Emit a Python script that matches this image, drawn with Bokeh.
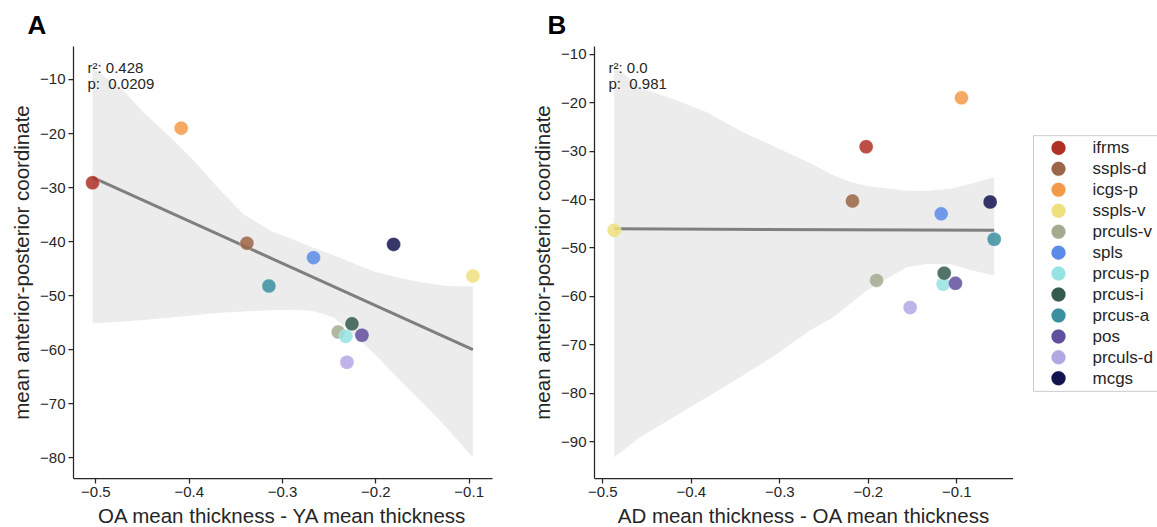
import numpy as np
from bokeh.plotting import figure
from bokeh.layouts import row
from bokeh.models import ColumnDataSource, Label, Title, FixedTicker, Range1d
from bokeh.core.properties import value
from bokeh.embed import file_html
from bokeh.resources import INLINE

# ---------------- data ----------------
regions = ["ifrms", "sspls-d", "icgs-p", "sspls-v", "prculs-v", "spls",
           "prcus-p", "prcus-i", "prcus-a", "pos", "prculs-d", "mcgs"]
colors = ["#b03024", "#9b6647", "#f39a4a", "#efe07e", "#a2ab90", "#5a8be8",
          "#95e3e3", "#355a4f", "#3a8fa0", "#5f4f9e", "#b3a7e3", "#13134f"]
ap_coord = [-29.1, -40.3, -19.0, -46.35, -56.7, -42.95,
            -57.5, -55.2, -48.2, -57.3, -62.3, -40.5]
oa_minus_ya = [-0.5036, -0.3382, -0.4086, -0.096, -0.2403, -0.2668,
               -0.2321, -0.2256, -0.3146, -0.2149, -0.231, -0.181]
ad_minus_oa = [-0.2025, -0.218, -0.0948, -0.4872, -0.1908, -0.1177,
               -0.1155, -0.1143, -0.0578, -0.1016, -0.1528, -0.0624]

# bootstrap confidence bands
band_a_x = [-0.5036, -0.474, -0.449, -0.42, -0.395, -0.37, -0.342, -0.313, -0.29,
            -0.267, -0.245, -0.231, -0.22, -0.2, -0.177, -0.152, -0.124, -0.096]
band_a_hi = [-8.0, -11.4, -16.1, -20.7, -25.0, -29.9, -34.9, -38.0, -39.5,
             -41.1, -42.5, -43.5, -44.3, -45.6, -46.6, -47.5, -48.2, -48.3]
band_a_lo = [-55.1, -54.8, -54.5, -54.0, -53.6, -53.2, -52.9, -52.7, -52.6,
             -52.8, -54.0, -56.0, -57.7, -61.0, -65.1, -69.4, -74.4, -79.9]
band_b_x = [-0.4872, -0.458, -0.42, -0.3825, -0.345, -0.3034, -0.2658, -0.2394,
            -0.2206, -0.2017, -0.1829, -0.1565, -0.1339, -0.1076, -0.0812, -0.0578]
band_b_hi = [-12.4, -16.9, -19.3, -22.0, -25.8, -29.3, -32.5, -35.0,
             -36.4, -37.2, -37.6, -38.2, -38.2, -37.8, -36.6, -35.4]
band_b_lo = [-93.2, -89.1, -84.9, -80.8, -76.7, -71.9, -67.0, -64.3,
             -61.5, -58.8, -56.7, -54.0, -53.3, -53.3, -54.7, -55.7]

stats_a = ["r²: 0.428", "p:\u00a0\u00a00.0209"]
stats_b = ["r²: 0.0", "p:\u00a0\u00a00.981"]
x_ticks = [-0.5, -0.4, -0.3, -0.2, -0.1]
y_ticks_a = [-80, -70, -60, -50, -40, -30, -20, -10]
y_ticks_b = [-90, -80, -70, -60, -50, -40, -30, -20, -10]
y_label = "mean anterior-posterior coordinate"
x_label_a = "OA mean thickness - YA mean thickness"
x_label_b = "AD mean thickness - OA mean thickness"

FONT = "Liberation Sans"
INK = "#262626"
FRAME_W, FRAME_H = 419, 432


def minus(s):
    return s.replace("-", "\u2212")


def panel(xvals, bx, blo, bhi, xr, yr, yticks, xlabel, letter, stats,
          left, right, letter_dx):
    p = figure(frame_width=FRAME_W, frame_height=FRAME_H, x_range=xr, y_range=yr,
               output_backend="svg", toolbar_location=None,
               min_border_left=left, min_border_right=right,
               min_border_top=46, min_border_bottom=40)
    p.outline_line_color = None
    p.grid.visible = False

    p.add_layout(Title(text=letter, align="left", offset=letter_dx, standoff=13,
                       text_font=FONT, text_font_size="26px", text_font_style="bold",
                       text_color="black"), "above")

    p.varea(x=bx, y1=blo, y2=bhi, fill_color="#808080", fill_alpha=0.15)
    slope, icpt = np.polyfit(xvals, ap_coord, 1)
    xs = [min(xvals), max(xvals)]
    p.line(xs, [slope * x + icpt for x in xs], line_color="#7f7f7f", line_width=3)

    src = ColumnDataSource(dict(x=xvals, y=ap_coord, c=colors, name=regions))
    p.scatter("x", "y", source=src, size=14, fill_color="c", fill_alpha=0.85,
              line_color="white", line_alpha=0.5, line_width=0.6)

    p.xaxis.ticker = FixedTicker(ticks=x_ticks)
    p.xaxis.major_label_overrides = {t: minus(f"{t:.1f}") for t in x_ticks}
    p.yaxis.ticker = FixedTicker(ticks=yticks)
    p.yaxis.major_label_overrides = {t: minus(str(t)) for t in yticks}
    p.xaxis.axis_label = xlabel
    p.yaxis.axis_label = y_label
    for ax in (p.xaxis[0], p.yaxis[0]):
        ax.axis_line_color = INK
        ax.axis_line_width = 1.25
        ax.major_tick_line_color = INK
        ax.major_tick_line_width = 1.25
        ax.major_tick_out = 5
        ax.major_tick_in = 0
        ax.minor_tick_line_color = None
        ax.major_label_text_font = FONT
        ax.major_label_text_font_size = "15px"
        ax.major_label_text_color = INK
        ax.axis_label_text_font = FONT
        ax.axis_label_text_font_size = "20.5px"
        ax.axis_label_text_font_style = "normal"
        ax.axis_label_text_color = INK
        ax.major_label_standoff = 3
        ax.axis_label_standoff = 4

    for i, s in enumerate(stats):
        p.add_layout(Label(x=14, y=FRAME_H - 21 - 16 * i, x_units="screen", y_units="screen",
                           text=s, text_font=FONT, text_font_size="15px",
                           text_color=INK, text_baseline="middle"))
    return p


pA = panel(oa_minus_ya, band_a_x, band_a_lo, band_a_hi, (-0.524, -0.075), (-83.8, -3.9),
           y_ticks_a, x_label_a, "A", stats_a, 73, 30, -46)
pB = panel(ad_minus_oa, band_b_x, band_b_lo, band_b_hi, (-0.5095, -0.036), (-97.6, -8.4),
           y_ticks_b, x_label_b, "B", stats_b, 72, 0, -47)

# ---------------- legend panel ----------------
LW, LH = 144, 527
pL = figure(width=LW, height=LH, x_range=Range1d(0, LW), y_range=Range1d(LH, 0),
            output_backend="svg", toolbar_location=None, min_border=0,
            x_axis_type=None, y_axis_type=None)
pL.outline_line_color = None
pL.grid.visible = False
row_step = 25.67
first_row = 124.3
leg_y = [first_row + i * row_step for i in range(len(regions))]
pL.quad(left=20, right=LW + 20, top=first_row - 15, bottom=leg_y[-1] + 16,
        fill_color="white", line_color="#cccccc", line_width=1)
leg_src = ColumnDataSource(dict(x=[45] * len(regions), tx=[79] * len(regions),
                                y=leg_y, c=colors, name=regions))
pL.scatter("x", "y", source=leg_src, size=14, fill_color="c", line_color="c", line_alpha=0.3)
pL.text("tx", "y", text="name", source=leg_src, text_font_size=value("17px"),
        text_baseline="middle", text_color=INK, text_font=value(FONT))

layout = row(pA, pB, pL)
open("out.html", "w").write(file_html(layout, INLINE))
